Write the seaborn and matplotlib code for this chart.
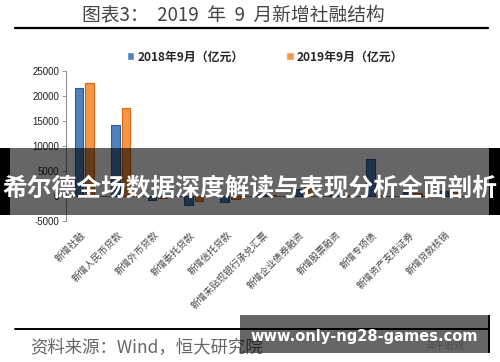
import numpy as np
import pandas as pd
import matplotlib
matplotlib.use("Agg")
import matplotlib.pyplot as plt
from matplotlib.patches import Rectangle
from matplotlib.lines import Line2D
import seaborn as sns

# categories and values (亿元)
categories = ["新增社融", "新增人民币贷款", "新增外币贷款", "新增委托贷款", "新增信托贷款",
              "新增未贴现银行承兑汇票", "新增企业债券融资", "新增股票融资", "新增专项债",
              "新增资产支持证券", "新增贷款核销"]
sep_2018 = [21700, 14300, -850, -1770, -1160, 400, 1400, 200, 7400, 900, 1000]
sep_2019 = [22700, 17700, -300, -1000, -650, 300, 1800, 150, 300, 600, 900]
series_names = ["2018年9月（亿元）", "2019年9月（亿元）"]
yticks = [-5000, 0, 5000, 10000, 15000, 20000, 25000]

df = pd.DataFrame({
    "cat": categories * 2,
    "value": sep_2018 + sep_2019,
    "series": [series_names[0]] * len(categories) + [series_names[1]] * len(categories),
})

sns.set_theme(style="white")
plt.rcParams["font.family"] = ["Noto Sans CJK SC", "DejaVu Sans"]

W, H = 500, 362
fig = plt.figure(figsize=(W / 100, H / 100), dpi=100)


def fx(x):
    return x / W


def fy(y):
    return 1 - y / H


ax = fig.add_axes([fx(66), fy(221), fx(467) - fx(66), fy(71) - fy(221)])
sns.barplot(data=df, x="cat", y="value", hue="series", ax=ax,
            palette=["#4F81BD", "#F79646"], width=0.58, gap=0.18,
            saturation=1, legend=True)
for cont, ec in zip(ax.containers, ["#2E5C94", "#D9660F"]):
    for bar in cont:
        bar.set_edgecolor(ec)
        bar.set_linewidth(0.8)

handles = ax.get_legend().legend_handles
ax.get_legend().remove()

ax.set_ylim(-5000, 25000)
ax.set_xlim(-0.5, len(categories) - 0.5)
ax.set_yticks(yticks)
ax.set_yticklabels([str(v) for v in yticks], family="Liberation Sans", fontsize=7, color="#222")
ax.set_xticks(range(len(categories)))
ax.set_xticklabels(categories, rotation=45, ha="right", va="center",
                   rotation_mode="anchor", fontsize=6.8, color="#444")
ax.tick_params(axis="x", length=0, pad=9)
ax.tick_params(axis="y", length=3, width=0.6, color="#888", left=True, pad=2)
ax.set_xlabel("")
ax.set_ylabel("")
for s in ["top", "right", "bottom"]:
    ax.spines[s].set_visible(False)
ax.spines["left"].set_color("#888")
ax.spines["left"].set_linewidth(0.7)
ax.axhline(0, color="#888", lw=0.7, zorder=0)

fig.legend(handles, series_names, loc="center", bbox_to_anchor=(fx(265), fy(57)),
           ncol=2, frameon=False, handlelength=0.6, handleheight=0.6,
           handletextpad=0.25, columnspacing=3.6,
           prop={"family": ["Noto Sans CJK SC"], "weight": "bold", "size": 8.6})

# title and rules
fig.text(fx(82), fy(15), "图表3：  2019  年  9  月新增社融结构", fontsize=13.5,
         color="#444", ha="left", va="center")
fig.add_artist(Line2D([fx(15), fx(488)], [fy(28), fy(28)], color="black", lw=1.6))
fig.add_artist(Line2D([fx(15), fx(488)], [fy(329), fy(329)], color="black", lw=1.4))
fig.text(fx(30), fy(347), "资料来源：Wind，恒大研究院", fontsize=12.5, color="#666",
         ha="left", va="center", style="italic")
fig.text(fx(445), fy(346), "泽平宏观", fontsize=7, color="#bbb", ha="center", va="center")

# overlay banners
fig.add_artist(Rectangle((0, fy(215)), 1, fy(148) - fy(215), transform=fig.transFigure,
                         facecolor="black", alpha=0.6, edgecolor="none", zorder=10))
fig.add_artist(Rectangle((0, fy(215)), fx(10), fy(148) - fy(215), transform=fig.transFigure,
                         facecolor="black", edgecolor="none", zorder=10))
fig.add_artist(Rectangle((fx(489), fy(215)), fx(11), fy(148) - fy(215), transform=fig.transFigure,
                         facecolor="black", edgecolor="none", zorder=10))
fig.text(0.5, fy(188), "希尔德全场数据深度解读与表现分析全面剖析", fontsize=17.8, color="white",
         weight="bold", ha="center", va="center", zorder=11)

fig.add_artist(Rectangle((fx(240), fy(353)), fx(490) - fx(240), fy(315) - fy(353),
                         transform=fig.transFigure, facecolor="black", alpha=0.6,
                         edgecolor="none", zorder=10))
fig.add_artist(Rectangle((fx(488), fy(353)), fx(2), fy(315) - fy(353),
                         transform=fig.transFigure, facecolor="black", edgecolor="none", zorder=10))
fig.text(fx(364), fy(337), "www.only-ng28-games.com", fontsize=10.5, color="white",
         weight="bold", ha="center", va="center", family="DejaVu Sans", zorder=11)

fig.savefig("out.png", dpi=100)
